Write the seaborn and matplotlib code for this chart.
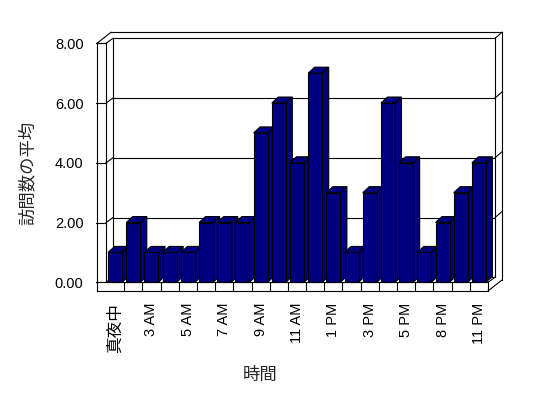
import matplotlib
matplotlib.use('Agg')
import matplotlib.pyplot as plt
from matplotlib.patches import Polygon
import pandas as pd
import seaborn as sns

# ---- data ----
categories = ['真夜中', '1 AM', '3 AM', '4 AM', '5 AM', '6 AM', '7 AM', '8 AM',
              '9 AM', '10 AM', '11 AM', '正午', '1 PM', '2 PM', '3 PM', '4 PM',
              '5 PM', '6 PM', '8 PM', '9 PM', '11 PM']
values = [1, 2, 1, 1, 1, 2, 2, 2, 5, 6, 4, 7, 3, 1, 3, 6, 4, 1, 2, 3, 4]
y_ticks = [0, 2, 4, 6, 8]
y_tick_labels = ['0.00', '2.00', '4.00', '6.00', '8.00']
x_label = '時間'
y_label = '訪問数の平均'

sns.set_theme(style='white')
plt.rcParams['font.family'] = ['Liberation Sans', 'Noto Sans CJK JP', 'DejaVu Sans']

W, H = 548, 398
fig = plt.figure(figsize=(W / 100, H / 100), dpi=100)
fig.patch.set_facecolor('white')
L, R, T, B = 106, 488, 43.3, 282.3
ax = fig.add_axes([L / W, 1 - B / H, (R - L) / W, (B - T) / H])
ax.set_facecolor('none')

df = pd.DataFrame({'cat': categories, 'val': values})
sns.barplot(data=df, x='cat', y='val', order=categories, color='#000080',
            saturation=1, width=0.77, edgecolor='black', linewidth=0.8,
            errorbar=None, ax=ax)

ax.set_xlim(-0.5, len(categories) - 0.5)
ax.set_ylim(y_ticks[0], y_ticks[-1])
for s in ax.spines.values():
    s.set_visible(False)
ax.grid(False)
ax.set_xlabel('')
ax.set_ylabel('')

p0 = ax.transData.transform((0, 0))
p1 = ax.transData.transform((1, 1))
ppx = p1[0] - p0[0]
ppy = p1[1] - p0[1]


def P(x, y, ox=0.0, oy=0.0):
    return (x + ox / ppx, y + oy / ppy)


def line(a, b, z=1):
    ax.plot([a[0], b[0]], [a[1], b[1]], color='black', lw=0.8,
            clip_on=False, zorder=z, solid_capstyle='projecting')


xa, xb = -0.5, len(categories) - 0.5
y0, y1 = y_ticks[0], y_ticks[-1]
DX, DY = 7, 5       # depth to back wall inner face
RX, RY = 14, 11     # rear of back wall
SLAB = 9            # left wall front thickness
FLOOR = 8.7         # floor front thickness

# back wall inner face
line(P(xa, y1, DX, DY), P(xb, y1, DX, DY))
line(P(xb, y1, DX, DY), P(xb, y0, DX, DY))
line(P(xa, y1, DX, DY), P(xa, y0, DX, DY))
line(P(xa, y0, DX, DY), P(xb, y0, DX, DY))
# rear outline
line(P(xa, y1, -SLAB, 0), P(xa, y1, -SLAB + RX, RY))
line(P(xa, y1, -SLAB + RX, RY), P(xb, y1, RX, RY))
line(P(xb, y1, RX, RY), P(xb, y0, RX, -FLOOR + RY))
line(P(xb, y1, DX, DY), P(xb, y1, RX, RY))
# left slab
line(P(xa, y1, -SLAB, 0), P(xa, y0, -SLAB, -FLOOR), z=100)
line(P(xa, y1), P(xa, y0), z=100)
line(P(xa, y1, -SLAB, 0), P(xa, y1))
line(P(xa, y1), P(xa, y1, DX, DY))
line(P(xa, y0), P(xa, y0, DX, DY))
# floor slab
line(P(xa, y0, -SLAB, -FLOOR), P(xb, y0, 0, -FLOOR), z=100)
line(P(xa, y0), P(xb, y0), z=100)
line(P(xb, y0), P(xb, y0, 0, -FLOOR), z=100)
line(P(xb, y0, 0, -FLOOR), P(xb, y0, RX, -FLOOR + RY), z=100)
line(P(xb, y0), P(xb, y0, DX, DY), z=100)
for k in range(1, len(categories)):
    line(P(k - 0.5, y0), P(k - 0.5, y0, 0, -FLOOR), z=100)

# y ticks and gridlines
for v in y_ticks:
    line(P(xa, v, -SLAB - 1.5, 0), P(xa, v), z=100)
    if y0 < v < y1:
        line(P(xa, v), P(xa, v, DX, DY))
        line(P(xa, v, DX, DY), P(xb, v, DX, DY))
        line(P(xb, v, DX, DY), P(xb, v, RX, RY))

# 3D faces on bars
BDX, BDY = 6.5, 6
navy = '#000080'
for i, bar in enumerate(ax.patches):
    x0 = bar.get_x()
    w = bar.get_width()
    h = bar.get_height()
    base = bar.get_y()
    z = 10 + 3 * i
    side = Polygon([(x0 + w, base + h), P(x0 + w, base + h, BDX, BDY),
                    P(x0 + w, base, BDX, BDY), (x0 + w, base)],
                   closed=True, facecolor=navy, edgecolor='black', lw=0.8,
                   zorder=z, clip_on=False)
    top = Polygon([(x0, base + h), (x0 + w, base + h),
                   P(x0 + w, base + h, BDX, BDY), P(x0, base + h, BDX, BDY)],
                  closed=True, facecolor=navy, edgecolor='black', lw=0.8,
                  zorder=z + 1, clip_on=False)
    ax.add_patch(side)
    ax.add_patch(top)
    bar.set_zorder(z + 2)
    bar.set_clip_on(False)

# tick labels
ax.set_yticks(y_ticks)
ax.set_yticklabels(y_tick_labels)
ax.tick_params(axis='y', length=0, pad=16.2, labelsize=10.5, labelcolor='black')
xt = list(range(0, len(categories), 2))
ax.set_xticks(xt)
ax.set_xticklabels([categories[i] for i in xt], rotation=90)
ax.tick_params(axis='x', length=0, pad=14.9, labelsize=10.5, labelcolor='black')
for t in ax.get_xticklabels():
    t.set_rotation_mode('anchor')
    t.set_horizontalalignment('right')
    t.set_verticalalignment('center')
    if t.get_text() == '真夜中':
        t.set_fontsize(12)

fig.text(260 / W, 1 - 375 / H, x_label, ha='center', va='center',
         fontsize=12.5, family=['Noto Sans CJK JP', 'DejaVu Sans'])
fig.text(27.5 / W, 1 - 173 / H, y_label, ha='center', va='center',
         rotation=90, fontsize=12.5, family=['Noto Sans CJK JP', 'DejaVu Sans'])

fig.savefig('out.png', dpi=100, facecolor='white')
